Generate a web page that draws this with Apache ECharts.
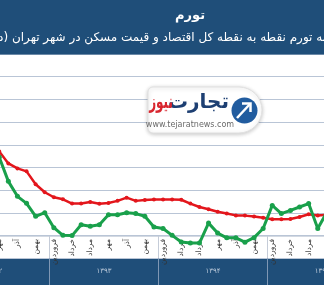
<!DOCTYPE html>
<html dir="rtl">
<head>
<meta charset="utf-8">
<script src="https://cdn.jsdelivr.net/npm/echarts@6/dist/echarts.min.js"></script>
<style>html,body{margin:0;padding:0;background:#fff}#c{width:324px;height:285px}</style>
</head>
<body>
<div id="c"></div>
<script>
// Persian month names (Farvardin .. Esfand)
const monthNames = ['فروردین','اردیبهشت','خرداد','تیر','مرداد','شهریور','مهر','آبان','آذر','دی','بهمن','اسفند'];
const shownMonths = ['فروردین','خرداد','مرداد','مهر','آذر','بهمن'];
const years = ['۱۳۹۲','۱۳۹۳','۱۳۹۴','۱۳۹۵'];
// first category: Shahrivar 1392, 38 months
const startYearIdx = 0, startMonthIdx = 5, monthCount = 38;

// point-to-point inflation, whole economy (red)
const cpiInflation = [42.0,37.1,31.8,29.6,28.3,22.6,19.1,16.9,16.0,14.1,14.1,14.8,14.0,14.4,15.3,16.7,15.3,15.7,15.9,15.9,15.9,15.8,14.1,12.6,11.6,10.5,9.7,8.9,8.8,8.4,7.9,7.2,7.2,7.3,8.2,9.4,8.9,9.2];
// point-to-point inflation, housing price in Tehran (green)
const housingInflation = [42.9,34.5,23.9,17.3,14.2,8.5,10.1,3.5,0.1,0.0,4.8,4.1,4.8,9.2,9.2,10.1,9.7,8.5,3.8,3.1,0.1,-2.8,-3.3,-3.3,5.5,1.1,-1.0,-1.0,-2.9,-0.9,3.1,13.3,9.7,11.1,12.6,14.1,3.1,10.3];

const categories = [], catMonth = [], catYear = [];
for (let i = 0; i < monthCount; i++) {
  const m = (startMonthIdx + i) % 12;
  const y = startYearIdx + Math.floor((startMonthIdx + i) / 12);
  categories.push(monthNames[m] + ' ' + years[y]);
  catMonth.push(monthNames[m]);
  catYear.push(years[y]);
}

const FONT = 'DejaVu Sans';
const BAND = '#1f4e79';
const chart = echarts.init(document.getElementById('c'), null, {renderer: 'canvas'});
const GL = -14.4, GR = -7.4;

chart.setOption({
  animation: false,
  grid: [
    {left: GL, right: GR, top: 54, bottom: 26.7, containLabel: false, outerBoundsMode: 'none'},
    {left: GL, right: GR, top: 258.3, bottom: 0, show: true, backgroundColor: BAND, borderWidth: 0, containLabel: false, outerBoundsMode: 'none'}
  ],
  xAxis: [
    {
      type: 'category', gridIndex: 0, data: categories, boundaryGap: true, position: 'bottom', offset: -22.3,
      axisLine: {onZero: false, lineStyle: {color: '#d3d9e2', width: 1}},
      axisTick: {show: true, length: 22.3, interval: (i) => catMonth[i] === 'فروردین', lineStyle: {color: '#c5ccd8'}},
      axisLabel: {
        rotate: 90, margin: 3, fontSize: 7.5, color: '#333', fontFamily: FONT,
        interval: (i) => shownMonths.indexOf(catMonth[i]) >= 0,
        formatter: (v, i) => catMonth[i]
      },
      splitLine: {show: false}
    },
    {
      type: 'category', gridIndex: 1, data: categories, boundaryGap: true, position: 'top',
      axisLine: {show: false, onZero: false},
      axisTick: {show: true, inside: true, length: 27, interval: (i) => catMonth[i] === 'فروردین', lineStyle: {color: '#7f97b4'}},
      axisLabel: {
        inside: true, margin: 9, fontSize: 7, color: '#b8c7d8', fontFamily: FONT,
        padding: [0, 0, 0, 9.1],
        interval: (i) => catMonth[i] === 'شهریور',
        formatter: (v, i) => catYear[i]
      },
      splitLine: {show: false}
    }
  ],
  yAxis: [
    {
      type: 'value', gridIndex: 0, min: -10, max: 80, interval: 10,
      axisLine: {show: false}, axisTick: {show: false}, axisLabel: {show: false},
      splitLine: {lineStyle: {color: '#b9c5d6', width: 1}}
    },
    {type: 'value', gridIndex: 1, show: false, min: 0, max: 1, splitLine: {show: false}}
  ],
  series: [
    {
      name: 'تورم کل', type: 'line', data: cpiInflation, xAxisIndex: 0, yAxisIndex: 0,
      color: '#e3161c', lineStyle: {width: 2.5, color: '#e3161c'},
      symbol: 'circle', symbolSize: 4, itemStyle: {color: '#e3161c'}, z: 3
    },
    {
      name: 'تورم مسکن', type: 'line', data: housingInflation, xAxisIndex: 0, yAxisIndex: 0,
      color: '#19a04b', lineStyle: {width: 3, color: '#19a04b'},
      symbol: 'circle', symbolSize: 5, itemStyle: {color: '#19a04b'}, z: 4
    }
  ],
  graphic: [
    {type: 'rect', z: 100, shape: {x: 0, y: 0, width: 324, height: 54.5}, style: {fill: BAND}},
    {type: 'text', z: 101, x: 190, y: 16, style: {text: 'تورم', fill: '#fff', fontSize: 13, fontWeight: 'bold', fontFamily: FONT, align: 'center', verticalAlign: 'middle', textAlign: 'center', textVerticalAlign: 'middle'}},
    {type: 'text', z: 101, x: 162, y: 38, style: {text: 'مقایسه تورم نقطه به نقطه کل اقتصاد و قیمت مسکن در شهر تهران (درصد)', fill: '#fff', fontSize: 12, fontFamily: FONT, align: 'center', verticalAlign: 'middle', textAlign: 'center', textVerticalAlign: 'middle'}},
    {type: 'rect', z: 50, shape: {x: 148, y: 87, width: 114, height: 46, r: [5, 23, 23, 5]}, style: {fill: '#fff', stroke: '#e0e0e0', lineWidth: 1, shadowBlur: 4, shadowColor: 'rgba(0,0,0,0.22)', shadowOffsetY: 1}},
    {type: 'circle', z: 51, shape: {cx: 244.5, cy: 110.5, r: 13}, style: {fill: '#215c9f'}},
    {type: 'polyline', z: 52, shape: {points: [[237, 118], [250, 104]]}, style: {stroke: '#fff', lineWidth: 2.5, fill: null}},
    {type: 'polyline', z: 52, shape: {points: [[242, 103.5], [250.5, 103.5], [250.5, 112]]}, style: {stroke: '#fff', lineWidth: 2.5, fill: null}},
    {type: 'text', z: 52, x: 229, y: 103, style: {text: 'تجارت', fill: '#1d3f72', fontSize: 20, fontWeight: 'bold', fontFamily: FONT, align: 'right', verticalAlign: 'middle', textAlign: 'right', textVerticalAlign: 'middle'}},
    {type: 'text', z: 52, x: 173, y: 103, scaleX: 0.6, style: {text: 'نیوز', fill: '#d8262f', fontSize: 20, fontWeight: 'bold', fontFamily: FONT, align: 'right', verticalAlign: 'middle', textAlign: 'right', textVerticalAlign: 'middle'}},
    {type: 'text', z: 52, x: 190, y: 125, style: {text: 'www.tejaratnews.com', fill: '#6a6a6a', fontSize: 8, fontFamily: FONT, align: 'center', verticalAlign: 'middle', textAlign: 'center', textVerticalAlign: 'middle'}}
  ]
});
</script>
</body>
</html>
